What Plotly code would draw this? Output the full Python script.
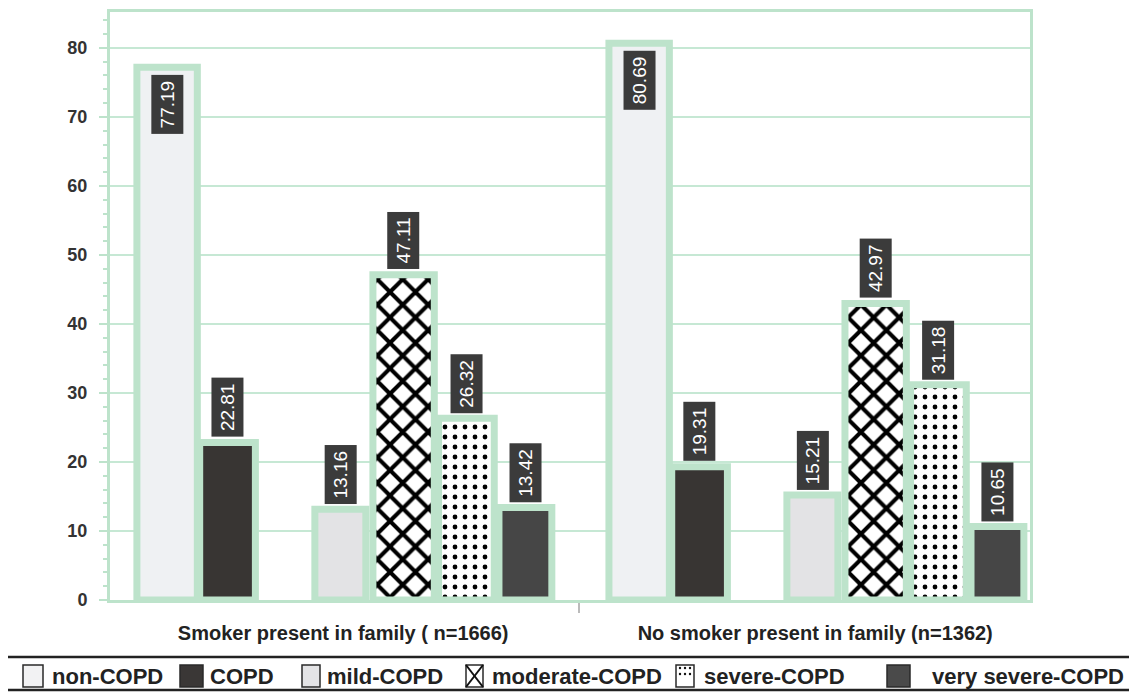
import plotly.graph_objects as go

# ---------------- data ----------------
categories = ["Smoker present in family ( n=1666)", "No smoker present in family (n=1362)"]
series_names = ["non-COPD", "COPD", "mild-COPD", "moderate-COPD", "severe-COPD", "very severe-COPD"]
non_copd = [77.19, 80.69]
copd = [22.81, 19.31]
mild_copd = [13.16, 15.21]
moderate_copd = [47.11, 42.97]
severe_copd = [26.32, 31.18]
very_severe_copd = [13.42, 10.65]
y_ticks = [0, 10, 20, 30, 40, 50, 60, 70, 80]

values = [non_copd, copd, mild_copd, moderate_copd, severe_copd, very_severe_copd]

# ---------------- style ----------------
MINT = "#bde3cb"
GRID = "#c6e8d4"
FONT = "Liberation Sans, Arial, sans-serif"
W, H = 1137, 697
PAGE_OFF = 8                     # default body margin of the html page
PW, PH = 920, 588                # plot area size
ML, MT = 110 - PAGE_OFF, 12 - PAGE_OFF
MR, MB = W - ML - PW, H - MT - PH

styles = [
    dict(offset=-0.437, width=0.128, color="#eff1f3", pattern=None, inside=True),
    dict(offset=-0.304, width=0.118, color="#383533", pattern=None, inside=False),
    dict(offset=-0.060, width=0.108, color="#e3e3e5", pattern=None, inside=False),
    dict(offset=0.063, width=0.130, color="#ffffff",
         pattern=dict(shape="x", fgcolor="#000000", bgcolor="#ffffff", fgopacity=1,
                      size=18, solidity=0.4), inside=False),
    dict(offset=0.202, width=0.118, color="#ffffff",
         pattern=dict(shape=".", fgcolor="#000000", bgcolor="#ffffff", fgopacity=1,
                      size=10, solidity=0.18), inside=False),
    dict(offset=0.330, width=0.112, color="#464646", pattern=None, inside=False),
]

# manual legend layout (pixel positions on the page)
legend_icon_x = [(23, 43), (180, 203), (302, 320), (466, 483), (676, 694), (887, 910)]
legend_text_x = [50, 208, 325, 490, 702, 930]
legend_icon_fill = ["#f2f2f3", "#3a3736", "#e4e4e6", "#ffffff", "#ffffff", "#4a4a4a"]
LEG_Y0, LEG_Y1 = 665, 687
LEG_BOX = (5, 1160, 657, 690)


def px(xp):
    return (xp - PAGE_OFF - ML) / PW


def py(yp):
    return (MT + PH - (yp - PAGE_OFF)) / PH


x_pos = list(range(len(categories)))

fig = go.Figure()
annotations = []
shapes = []

for name, vals, st in zip(series_names, values, styles):
    marker = dict(color=st["color"], line=dict(color=MINT, width=7))
    if st["pattern"]:
        marker["pattern"] = st["pattern"]
    fig.add_trace(go.Bar(
        x=x_pos, y=vals, name=name, offset=st["offset"], width=st["width"],
        marker=marker, showlegend=False, hoverinfo="x+y+name",
    ))
    for xi, v in zip(x_pos, vals):
        cx = xi + st["offset"] + st["width"] / 2
        annotations.append(dict(
            x=cx, y=v, xref="x", yref="y", text="%.2f" % v, showarrow=False,
            textangle=-90, font=dict(family=FONT, size=19, color="#ffffff"),
            bgcolor="#3b3b3b", borderpad=5,
            yanchor="top" if st["inside"] else "bottom",
            yshift=-7 if st["inside"] else 5,
        ))

# legend box
shapes.append(dict(type="rect", xref="paper", yref="paper",
                   x0=px(LEG_BOX[0]), x1=px(LEG_BOX[1]), y0=py(LEG_BOX[3]), y1=py(LEG_BOX[2]),
                   line=dict(color="#222222", width=2.5), fillcolor="rgba(0,0,0,0)"))
for i, name in enumerate(series_names):
    x0, x1 = legend_icon_x[i]
    shapes.append(dict(type="rect", xref="paper", yref="paper",
                       x0=px(x0), x1=px(x1), y0=py(LEG_Y1), y1=py(LEG_Y0),
                       line=dict(color="#2a2a2a", width=1.5), fillcolor=legend_icon_fill[i]))
    pat = styles[i]["pattern"]
    if pat and pat["shape"] == "x":
        for (a, b) in [((x0, LEG_Y0), (x1, LEG_Y1)), ((x0, LEG_Y1), (x1, LEG_Y0))]:
            shapes.append(dict(type="line", xref="paper", yref="paper",
                               x0=px(a[0]), y0=py(a[1]), x1=px(b[0]), y1=py(b[1]),
                               line=dict(color="#111111", width=2)))
    elif pat and pat["shape"] == ".":
        for dy in (LEG_Y0 + 3, LEG_Y0 + 9):
            for k in range(3):
                cxp = x0 + 4 + k * 5
                shapes.append(dict(type="circle", xref="paper", yref="paper",
                                   x0=px(cxp - 1.2), x1=px(cxp + 1.2),
                                   y0=py(dy + 1.2), y1=py(dy - 1.2),
                                   line=dict(width=0), fillcolor="#111111"))
    annotations.append(dict(
        x=px(legend_text_x[i]), y=py((LEG_Y0 + LEG_Y1) / 2), xref="paper", yref="paper",
        text=name, showarrow=False, xanchor="left", yanchor="middle",
        font=dict(family=FONT, size=22, color="#222222", weight=700),
    ))

fig.update_layout(
    width=W, height=H,
    margin=dict(l=ML, r=MR, t=MT, b=MB, autoexpand=False),
    paper_bgcolor="#ffffff", plot_bgcolor="#ffffff",
    barmode="overlay",
    showlegend=False,
    annotations=annotations,
    shapes=shapes,
    font=dict(family=FONT, color="#222222"),
)

fig.update_xaxes(
    range=[-0.494, 1.455], tickmode="array", tickvals=x_pos, ticktext=categories,
    ticks="", showgrid=False, zeroline=False, automargin=False,
    showline=True, linecolor=MINT, linewidth=3, mirror=True,
    tickfont=dict(family=FONT, size=20, color="#222222", weight=700),
    ticklabelstandoff=13,
    minor=dict(tickmode="array", tickvals=[0.5], ticks="outside", ticklen=10,
               tickcolor="#bbbbbb", tickwidth=2, showgrid=False),
)

fig.update_yaxes(
    range=[0, 85.2], tickmode="array", tickvals=y_ticks,
    ticks="outside", ticklen=8, tickcolor=MINT, tickwidth=2,
    showgrid=True, gridcolor=GRID, gridwidth=2, zeroline=False, automargin=False,
    showline=True, linecolor=MINT, linewidth=3, mirror=True,
    tickfont=dict(family=FONT, size=18, color="#333333", weight=700),
    ticklabelstandoff=8,
    minor=dict(dtick=2, ticks="outside", ticklen=4, tickcolor=MINT, tickwidth=1.5, showgrid=False),
)

fig.write_html("out.html")
